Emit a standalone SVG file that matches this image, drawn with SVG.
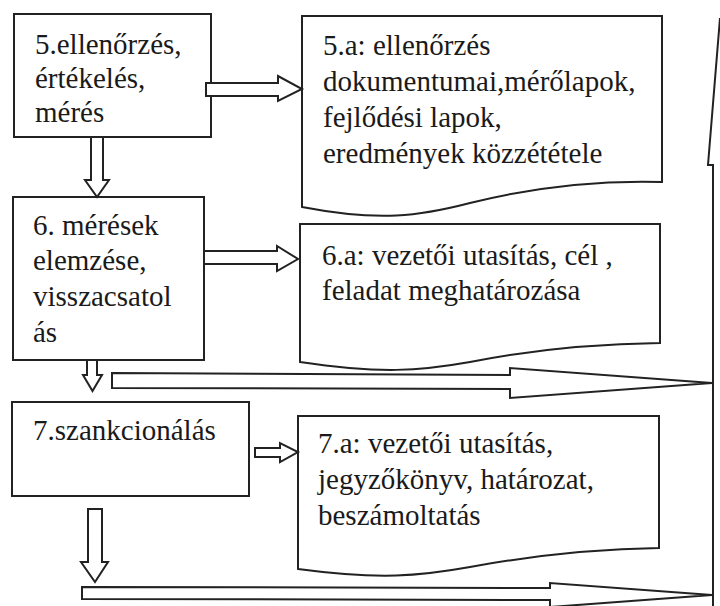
<svg xmlns="http://www.w3.org/2000/svg" width="720" height="606" viewBox="0 0 720 606">
<defs>
<style>
.box{fill:#fff;stroke:#222;stroke-width:2}
.arr{fill:#fff;stroke:#222;stroke-width:2;stroke-linejoin:miter}
</style>
</defs>
<rect width="720" height="606" fill="#fff"/>
<g font-family="Liberation Serif, 'Times New Roman', serif" font-size="29" fill="#1a1a1a">
<g id="node-5">
<rect class="box" x="14" y="14" width="197" height="123"/>
<text x="35" y="54">5.ellenőrzés,</text>
<text x="35" y="88">értékelés,</text>
<text x="35" y="122">mérés</text>
</g>
<g id="node-5a">
<path class="box" d="M302,16 H662 V182 C590,180 530,188 470,203 C420,216 380,222 302,207 Z"/>
<text x="323" y="55">5.a: ellenőrzés</text>
<text x="323" y="91">dokumentumai,mérőlapok,</text>
<text x="323" y="127">fejlődési lapok,</text>
<text x="323" y="163">eredmények közzététele</text>
</g>
<g id="node-6">
<rect class="box" x="13" y="197" width="191" height="163"/>
<text x="33" y="235">6. mérések</text>
<text x="33" y="270">elemzése,</text>
<text x="33" y="306">visszacsatol</text>
<text x="33" y="342">ás</text>
</g>
<g id="node-6a">
<path class="box" d="M300,224 H660 V343 C590,344 530,350 470,362 C420,371 380,374 300,362 Z"/>
<text x="322" y="265">6.a: vezetői utasítás, cél ,</text>
<text x="322" y="300">feladat meghatározása</text>
</g>
<g id="node-7">
<rect class="box" x="12" y="402" width="237" height="94"/>
<text x="33" y="440">7.szankcionálás</text>
</g>
<g id="node-7a">
<path class="box" d="M298,416 H659 V548 C590,549 530,556 470,567 C420,576 380,580 298,569 Z"/>
<text x="318" y="453">7.a: vezetői utasítás,</text>
<text x="318" y="489">jegyzőkönyv, határozat,</text>
<text x="318" y="525">beszámoltatás</text>
</g>
</g>
<g id="connectors">
<polygon class="arr" points="206,83 278,83 278,76 302,89 278,101 278,96 206,96"/>
<polygon class="arr" points="91,137 103,137 103,180 109,180 97,197 85,180 91,180"/>
<polygon class="arr" points="204,251 277,251 277,246 298,259 277,271 277,264 204,264"/>
<polygon class="arr" points="87,360 97,360 97,375 102,375 92.5,391 83,375 87,375"/>
<polygon class="arr" points="112,373 510,375 510,368 712,383 510,398 510,389 112,388"/>
<polygon class="arr" points="255,448 280,448 280,443 298,452 280,462 280,457 255,457"/>
<polygon class="arr" points="88,509 102,509 102,562 108,562 95,582 81,562 88,562"/>
<polygon class="arr" points="82,587 550,588 550,583 712,595 550,607 550,600 82,599"/>
<polyline fill="none" stroke="#222" stroke-width="2" points="720,18 708,165 713,165 713,606"/>
</g>
</svg>
